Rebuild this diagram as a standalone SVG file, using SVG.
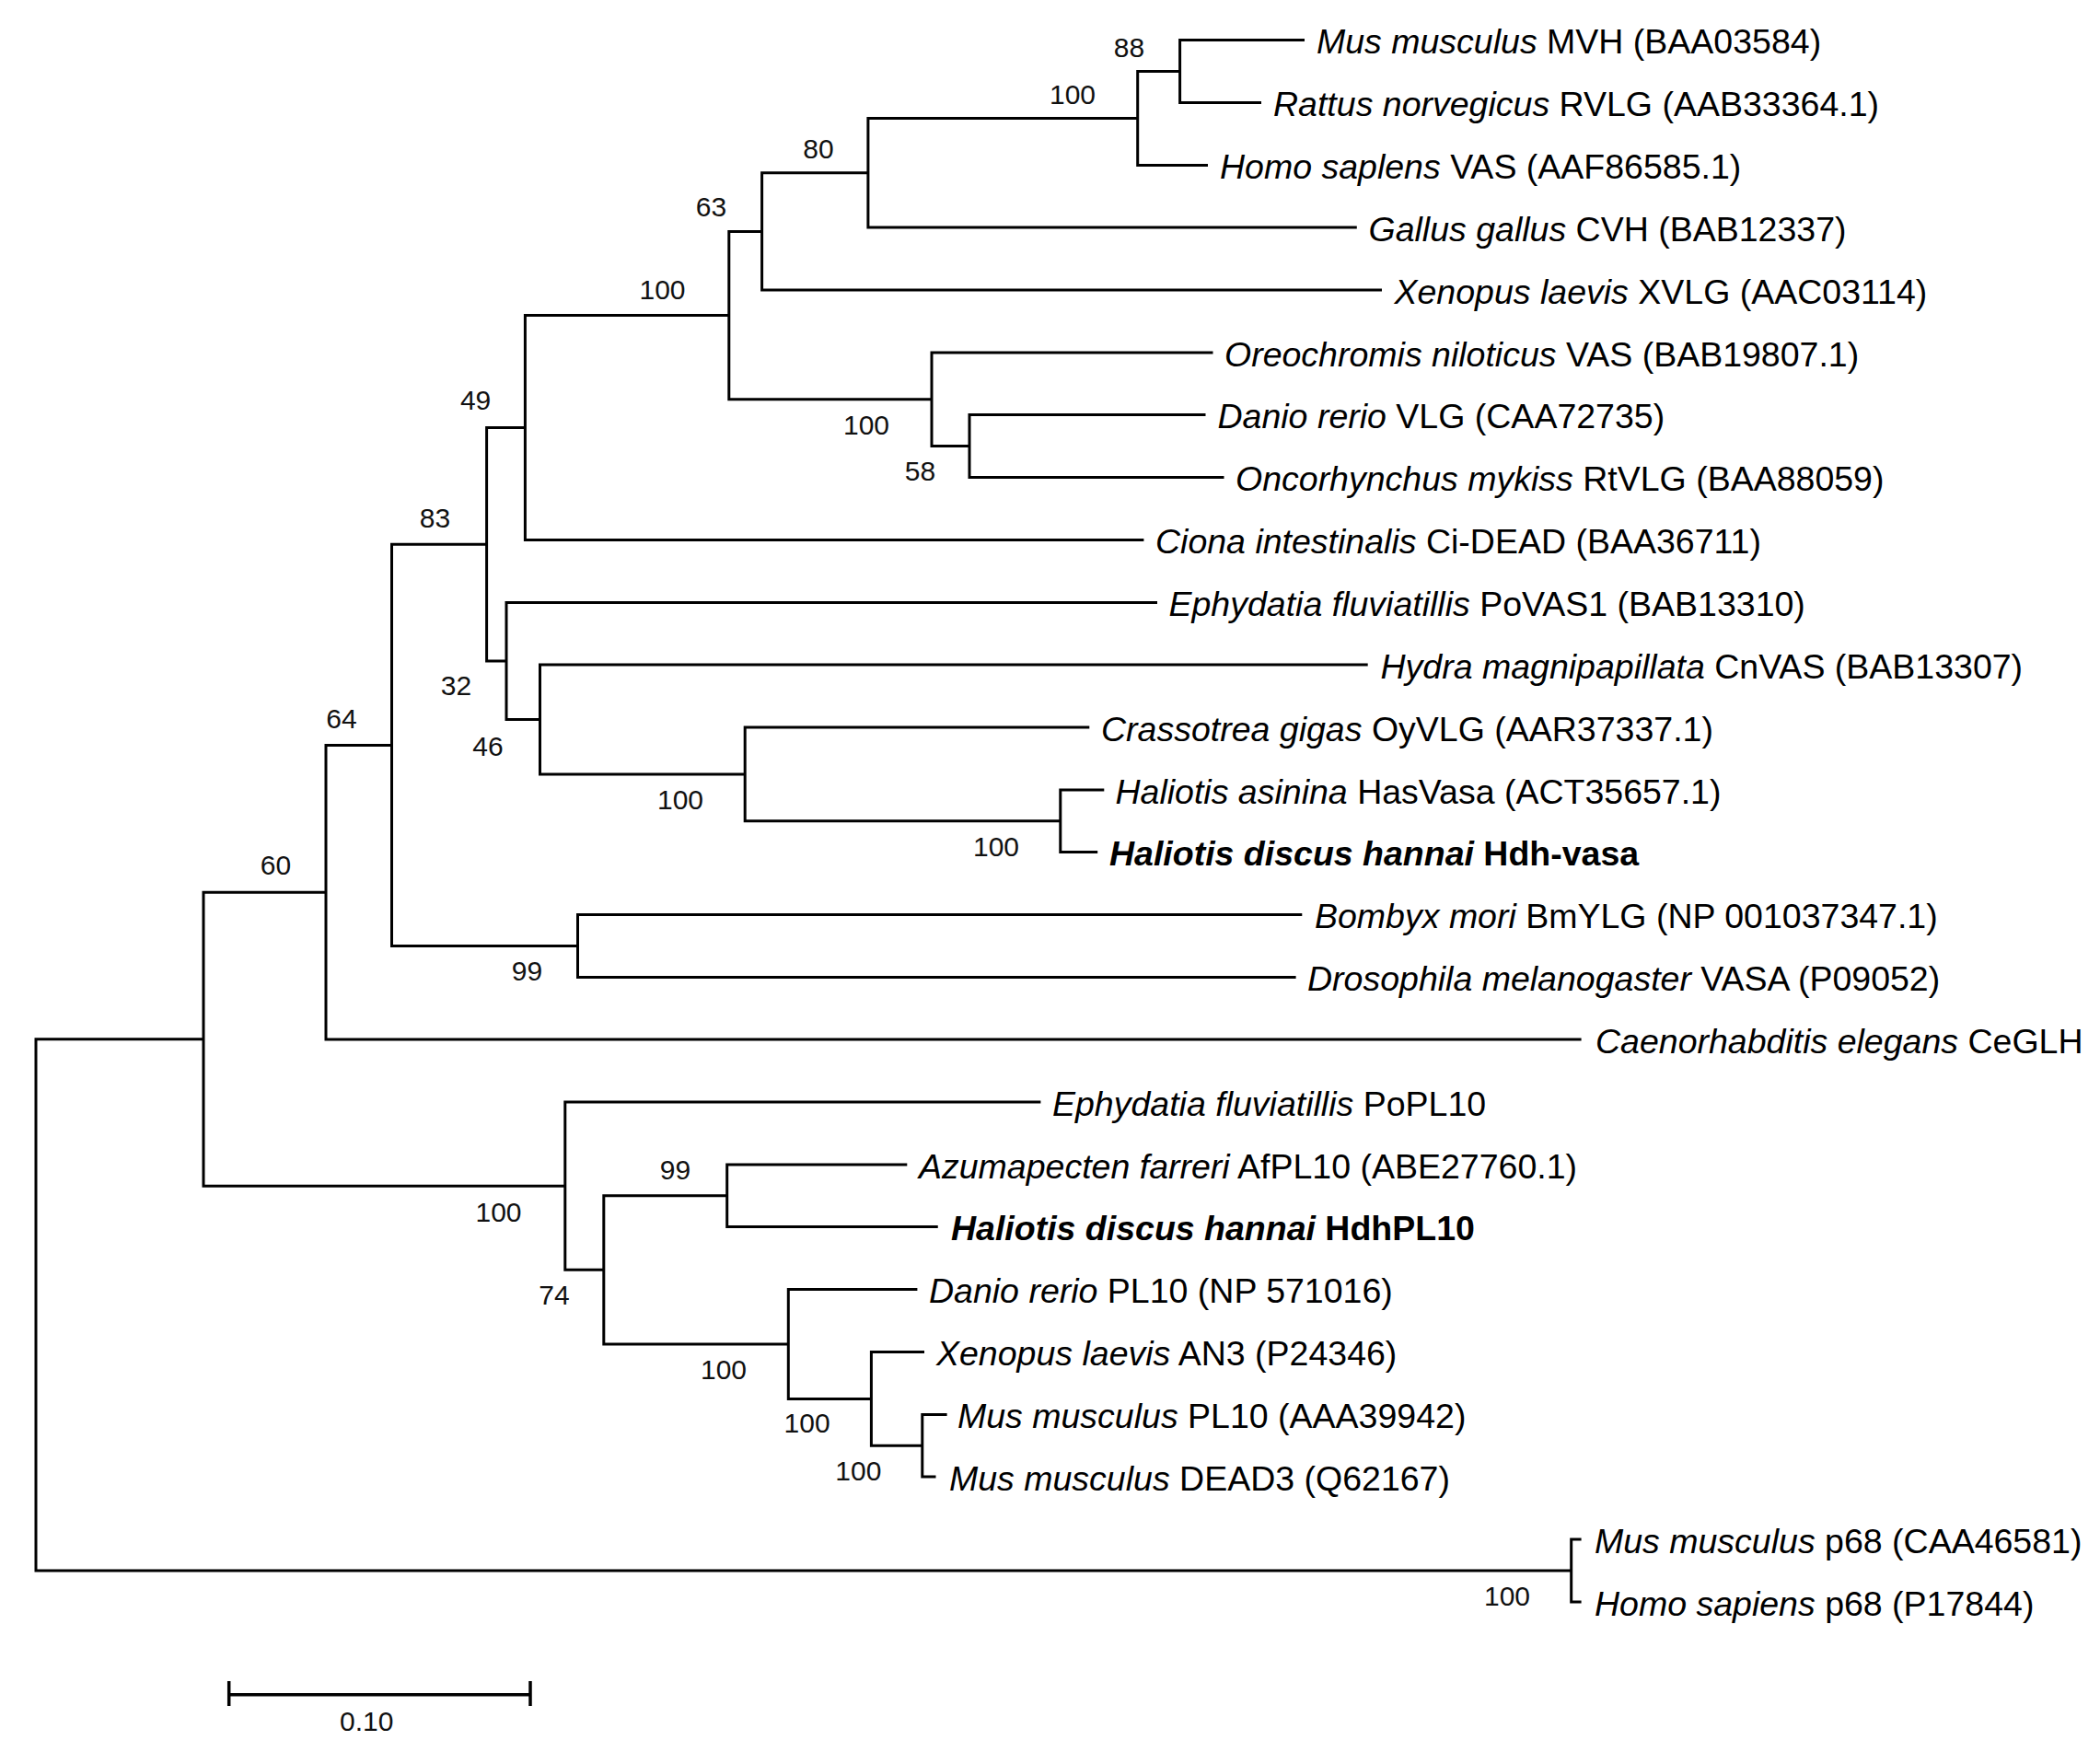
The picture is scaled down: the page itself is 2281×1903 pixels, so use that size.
<svg xmlns="http://www.w3.org/2000/svg" width="2281" height="1903" viewBox="0 0 2281 1903">
<style>
.br{fill:none;stroke:#000;stroke-width:3;stroke-linecap:butt;stroke-linejoin:miter}
.sb{fill:none;stroke:#000;stroke-width:3.5}
.lf{font-family:"Liberation Sans",Arial,sans-serif;font-size:37.5px;fill:#000}
.bs{font-family:"Liberation Sans",Arial,sans-serif;font-size:30px;fill:#111;text-anchor:middle}
.it{font-style:italic}
.bd{font-weight:bold}
</style>
<rect width="2281" height="1903" fill="#fff"/>
<g id="connectors">
<path class="br" d="M1417 43.5H1281.6V111.5H1370"/>
<path class="br" d="M1281.6 77.5H1235.7V179.5H1312"/>
<path class="br" d="M1235.7 128.5H942.9V247H1473.8"/>
<path class="br" d="M942.9 187.75H827.6V315H1501"/>
<path class="br" d="M1309.5 450.5H1053V518.5H1329.5"/>
<path class="br" d="M1317.5 383H1012V484.5H1053"/>
<path class="br" d="M827.6 251.4H791.8V433.75H1012"/>
<path class="br" d="M791.8 342.6H570.4V586.5H1242.4"/>
<path class="br" d="M1199.3 858H1151.8V925.5H1192.2"/>
<path class="br" d="M1183.3 790H809.2V891.75H1151.8"/>
<path class="br" d="M1485.7 722H586.5V840.9H809.2"/>
<path class="br" d="M1257 654.5H550V781.45H586.5"/>
<path class="br" d="M570.4 464.55H528.6V718H550"/>
<path class="br" d="M1414.3 993.5H627.5V1061.5H1407.6"/>
<path class="br" d="M528.6 591.26H425.5V1027.5H627.5"/>
<path class="br" d="M425.5 809.4H354V1129H1717.6"/>
<path class="br" d="M1028.6 1536.5H1001.8V1604H1016.5"/>
<path class="br" d="M1004 1468.5H946.4V1570.25H1001.8"/>
<path class="br" d="M996.4 1400.5H856.3V1519.4H946.4"/>
<path class="br" d="M985.3 1265H789.7V1332.5H1018.75"/>
<path class="br" d="M789.7 1298.75H655.8V1459.95H856.3"/>
<path class="br" d="M1130.4 1197H613.8V1379.35H655.8"/>
<path class="br" d="M354 969.2H221V1288.2H613.8"/>
<path class="br" d="M1717.6 1672H1706.7V1740H1717.6"/>
<path class="br" d="M221 1128.7H39V1706H1706.7"/>
</g>
<g id="leaf-mus-mvh"><text class="lf" x="1430" y="58"><tspan class="it">Mus musculus</tspan> MVH (BAA03584)</text></g>
<g id="leaf-rattus"><text class="lf" x="1383" y="126"><tspan class="it">Rattus norvegicus</tspan> RVLG (AAB33364.1)</text></g>
<g id="leaf-homo-vas"><text class="lf" x="1325" y="194"><tspan class="it">Homo saplens</tspan> VAS (AAF86585.1)</text></g>
<g id="leaf-gallus"><text class="lf" x="1486.5" y="261.5"><tspan class="it">Gallus gallus</tspan> CVH (BAB12337)</text></g>
<g id="leaf-xenopus-xvlg"><text class="lf" x="1514.5" y="329.5"><tspan class="it">Xenopus laevis</tspan> XVLG (AAC03114)</text></g>
<g id="leaf-oreochromis"><text class="lf" x="1330" y="397.5"><tspan class="it">Oreochromis niloticus</tspan> VAS (BAB19807.1)</text></g>
<g id="leaf-danio-vlg"><text class="lf" x="1322.5" y="465"><tspan class="it">Danio rerio</tspan> VLG (CAA72735)</text></g>
<g id="leaf-oncorhynchus"><text class="lf" x="1342" y="533"><tspan class="it">Oncorhynchus mykiss</tspan> RtVLG (BAA88059)</text></g>
<g id="leaf-ciona"><text class="lf" x="1255" y="601"><tspan class="it">Ciona intestinalis</tspan> Ci-DEAD (BAA36711)</text></g>
<g id="leaf-ephydatia-povas1"><text class="lf" x="1269.5" y="669"><tspan class="it">Ephydatia fluviatillis</tspan> PoVAS1 (BAB13310)</text></g>
<g id="leaf-hydra"><text class="lf" x="1499.5" y="736.5"><tspan class="it">Hydra magnipapillata</tspan> CnVAS (BAB13307)</text></g>
<g id="leaf-crassotrea"><text class="lf" x="1196" y="804.5"><tspan class="it">Crassotrea gigas</tspan> OyVLG (AAR37337.1)</text></g>
<g id="leaf-haliotis-asinina"><text class="lf" x="1211.5" y="872.5"><tspan class="it">Haliotis asinina</tspan> HasVasa (ACT35657.1)</text></g>
<g id="leaf-hdh-vasa"><text class="lf bd" x="1205" y="940"><tspan class="it">Haliotis discus hannai</tspan> Hdh-vasa</text></g>
<g id="leaf-bombyx"><text class="lf" x="1428" y="1008"><tspan class="it">Bombyx mori</tspan> BmYLG (NP 001037347.1)</text></g>
<g id="leaf-drosophila"><text class="lf" x="1420" y="1076"><tspan class="it">Drosophila melanogaster</tspan> VASA (P09052)</text></g>
<g id="leaf-caenorhabditis"><text class="lf" x="1733" y="1143.5"><tspan class="it">Caenorhabditis elegans</tspan> CeGLH</text></g>
<g id="leaf-ephydatia-popl10"><text class="lf" x="1143" y="1211.5"><tspan class="it">Ephydatia fluviatillis</tspan> PoPL10</text></g>
<g id="leaf-azumapecten"><text class="lf" x="998" y="1279.5"><tspan class="it">Azumapecten farreri</tspan> AfPL10 (ABE27760.1)</text></g>
<g id="leaf-hdhpl10"><text class="lf bd" x="1033" y="1347"><tspan class="it">Haliotis discus hannai</tspan> HdhPL10</text></g>
<g id="leaf-danio-pl10"><text class="lf" x="1009" y="1415"><tspan class="it">Danio rerio</tspan> PL10 (NP 571016)</text></g>
<g id="leaf-xenopus-an3"><text class="lf" x="1017" y="1483"><tspan class="it">Xenopus laevis</tspan> AN3 (P24346)</text></g>
<g id="leaf-mus-pl10"><text class="lf" x="1040" y="1551"><tspan class="it">Mus musculus</tspan> PL10 (AAA39942)</text></g>
<g id="leaf-mus-dead3"><text class="lf" x="1031" y="1618.5"><tspan class="it">Mus musculus</tspan> DEAD3 (Q62167)</text></g>
<g id="leaf-mus-p68"><text class="lf" x="1732" y="1686.5"><tspan class="it">Mus musculus</tspan> p68 (CAA46581)</text></g>
<g id="leaf-homo-p68"><text class="lf" x="1732" y="1754.5"><tspan class="it">Homo sapiens</tspan> p68 (P17844)</text></g>
<g id="node-88"><text class="bs" x="1226.5" y="61.7">88</text></g>
<g id="node-100-mammal"><text class="bs" x="1165" y="113">100</text></g>
<g id="node-80"><text class="bs" x="889" y="171.7">80</text></g>
<g id="node-63"><text class="bs" x="772.5" y="235">63</text></g>
<g id="node-100-vertebrate"><text class="bs" x="719.5" y="325">100</text></g>
<g id="node-49"><text class="bs" x="516.6" y="445.4">49</text></g>
<g id="node-100-fish"><text class="bs" x="941" y="471.5">100</text></g>
<g id="node-58"><text class="bs" x="999.5" y="522">58</text></g>
<g id="node-83"><text class="bs" x="472.5" y="572.5">83</text></g>
<g id="node-32"><text class="bs" x="495.5" y="755.4">32</text></g>
<g id="node-64"><text class="bs" x="371" y="791">64</text></g>
<g id="node-46"><text class="bs" x="530" y="820.5">46</text></g>
<g id="node-100-mollusc"><text class="bs" x="739" y="879">100</text></g>
<g id="node-100-haliotis"><text class="bs" x="1082" y="929.5">100</text></g>
<g id="node-60"><text class="bs" x="299.5" y="950">60</text></g>
<g id="node-99-insect"><text class="bs" x="572.5" y="1064.5">99</text></g>
<g id="node-99-pl10"><text class="bs" x="733.5" y="1281">99</text></g>
<g id="node-100-pl10"><text class="bs" x="541.5" y="1326.8">100</text></g>
<g id="node-74"><text class="bs" x="602" y="1417.2">74</text></g>
<g id="node-100-vert-pl10"><text class="bs" x="786" y="1498">100</text></g>
<g id="node-100-xen"><text class="bs" x="876.6" y="1556">100</text></g>
<g id="node-100-mus"><text class="bs" x="932.4" y="1607.6">100</text></g>
<g id="node-100-p68"><text class="bs" x="1637" y="1743.5">100</text></g>
<g id="scale-bar">
<path class="sb" d="M248.7 1840.7H576M248.7 1826V1853M576 1826V1853"/>
<text class="bs" x="398.3" y="1880">0.10</text>
</g>
</svg>
